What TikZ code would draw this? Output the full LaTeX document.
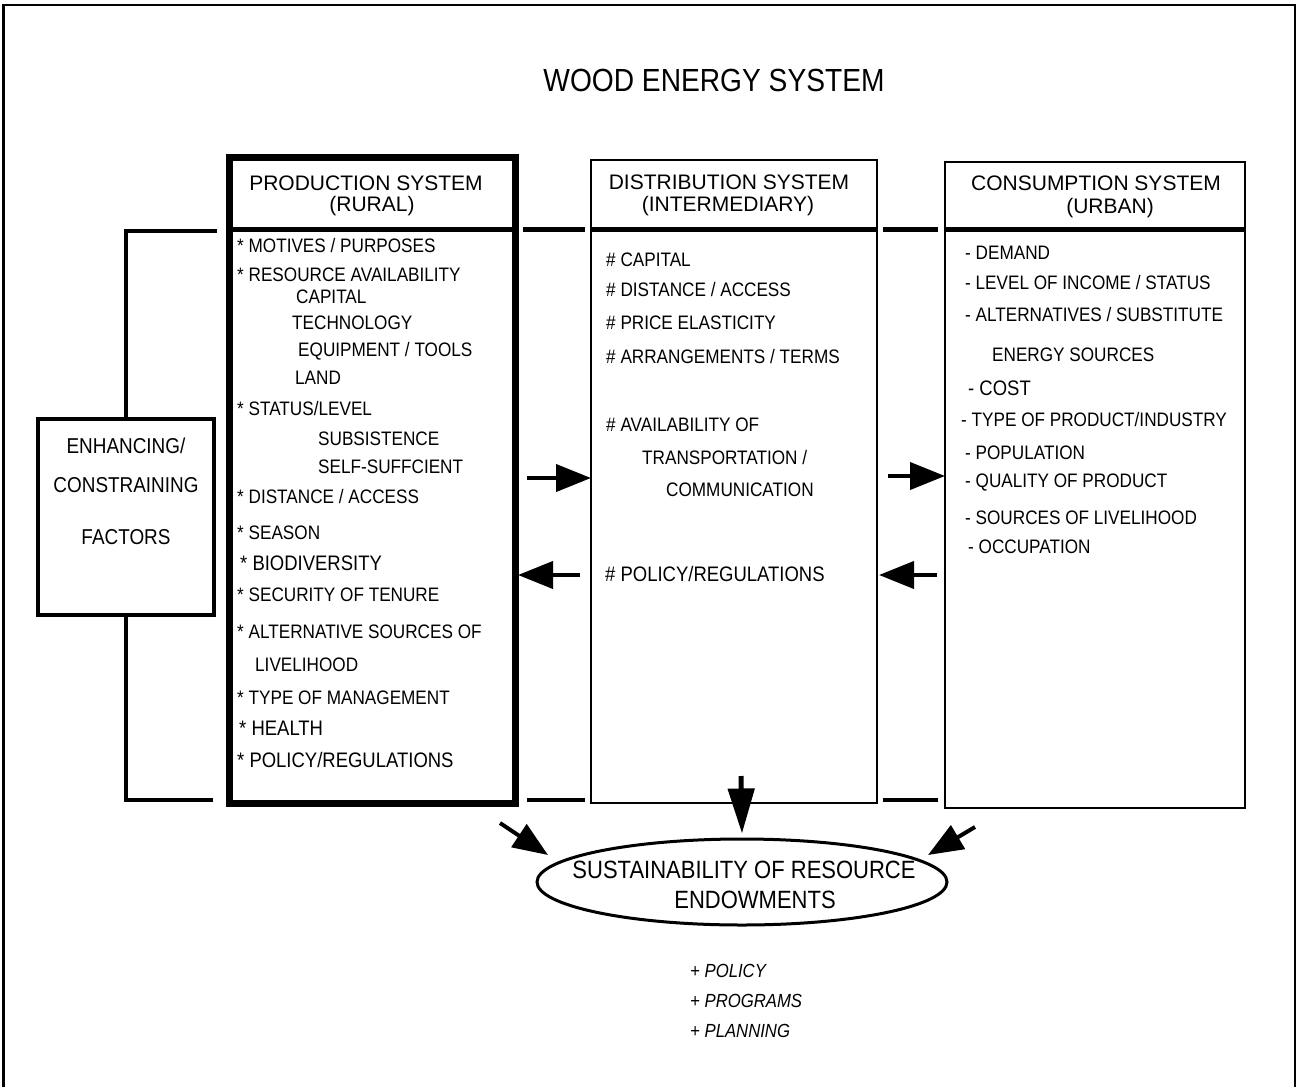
\documentclass[tikz,border=0pt]{standalone}
\usepackage{fontspec}
\setmainfont{Liberation Sans}
\newfontfamily\nf[FakeStretch=0.88]{Liberation Sans}
\usetikzlibrary{shapes.geometric,arrows.meta}
\begin{document}
\begin{tikzpicture}[x=1pt,y=-1pt,
  box/.style={draw, rectangle, anchor=north west, inner sep=0pt, outer sep=0pt},
  item/.style={anchor=west, inner sep=0pt, font=\nf\fontsize{19.5}{20}\selectfont},
  bigitem/.style={anchor=west, inner sep=0pt, font=\nf\fontsize{21}{22}\selectfont},
  head/.style={inner sep=0pt, font=\fontsize{21}{22}\selectfont},
  enhtxt/.style={inner sep=0pt, font=\nf\fontsize{21.5}{22}\selectfont},
  plan/.style={anchor=west, inner sep=0pt, font=\nf\itshape\fontsize{19}{20}\selectfont},
  arr/.style={line width=4pt, -{Triangle[length=35pt,width=27pt]}},
  link/.style={line width=5pt},
  thinlink/.style={line width=4pt},
]
\useasboundingbox (0,0) rectangle (1297,1086);
% outer frame
\draw[line width=2.5pt] (3.5,5) rectangle (1295,1100);

% title
\node[inner sep=0pt, font=\nf\fontsize{32}{34}\selectfont] (title) at (714,80) {WOOD ENERGY SYSTEM};

% boxes
\node[box, line width=7pt, minimum width=286pt, minimum height=645pt] (prod) at (229,158) {};
\node[box, line width=2.5pt, minimum width=286pt, minimum height=643pt] (dist) at (591,160) {};
\node[box, line width=2.5pt, minimum width=300pt, minimum height=646pt] (cons) at (945,162) {};
\node[box, line width=3.5pt, minimum width=176pt, minimum height=196pt] (enh) at (38,419) {};

% header dividers
\draw[link] (prod.west |- 0,229) -- (prod.east |- 0,229);
\draw[link] (dist.west |- 0,229) -- (dist.east |- 0,229);
\draw[link] (cons.west |- 0,229) -- (cons.east |- 0,229);

% links between boxes
\coordinate (ta) at (523,229); \coordinate (tb) at (585,229);
\coordinate (tc) at (883,229); \coordinate (td) at (938,229);
\coordinate (ba) at (527,800); \coordinate (bb) at (585,800);
\coordinate (bc) at (883,800); \coordinate (bd) at (938,800);
\draw[link] (ta) -- (tb);
\draw[link] (tc) -- (td);
\draw[thinlink] (ba) -- (bb);
\draw[thinlink] (bc) -- (bd);

% bracket to enhancing box
\coordinate (bt) at (217,231);
\coordinate (bbt) at (213,800);
\draw[line width=4pt, line join=miter] (bt) -| (enh.north);
\draw[line width=4pt, line join=miter] (bbt) -| (enh.south);

% enhancing text
\node[enhtxt] (e1) at (126,446) {ENHANCING/};
\node[enhtxt] (e2) at (126,485) {CONSTRAINING};
\node[enhtxt] (e3) at (126,537) {FACTORS};

% headers
\node[head] (ph1) at (366,183) {PRODUCTION SYSTEM};
\node[head] (ph2) at (372,206) {(RURAL)};
\node[head] (dh1) at (729,182) {DISTRIBUTION SYSTEM};
\node[head] (dh2) at (728,206) {(INTERMEDIARY)};
\node[head] (ch1) at (1096,183) {CONSUMPTION SYSTEM};
\node[head] (ch2) at (1110,208) {(URBAN)};

% production items
\node[item] (p1) at (237,246) {* MOTIVES / PURPOSES};
\node[item] (p2) at (237,275) {* RESOURCE AVAILABILITY};
\node[item] (p3) at (296,297) {CAPITAL};
\node[item] (p4) at (292,323) {TECHNOLOGY};
\node[item] (p5) at (298,351) {EQUIPMENT / TOOLS};
\node[item] (p6) at (295,378) {LAND};
\node[item] (p7) at (237,409) {* STATUS/LEVEL};
\node[item] (p8) at (318,439) {SUBSISTENCE};
\node[item] (p9) at (318,467) {SELF-SUFFCIENT};
\node[item] (p10) at (237,497) {* DISTANCE / ACCESS};
\node[item] (p11) at (237,533) {* SEASON};
\node[bigitem] (p12) at (240,563) {* BIODIVERSITY};
\node[item] (p13) at (237,595) {* SECURITY OF TENURE};
\node[item] (p14) at (237,632) {* ALTERNATIVE SOURCES OF};
\node[item] (p15) at (255,665) {LIVELIHOOD};
\node[item] (p16) at (237,698) {* TYPE OF MANAGEMENT};
\node[bigitem] (p17) at (239,728) {* HEALTH};
\node[bigitem] (p18) at (237,760) {* POLICY/REGULATIONS};

% distribution items
\node[item] (d1) at (606,260) {\# CAPITAL};
\node[item] (d2) at (606,290) {\# DISTANCE / ACCESS};
\node[item] (d3) at (606,323) {\# PRICE ELASTICITY};
\node[item] (d4) at (606,357) {\# ARRANGEMENTS / TERMS};
\node[item] (d5) at (606,425) {\# AVAILABILITY OF};
\node[item] (d6) at (642,458) {TRANSPORTATION /};
\node[item] (d7) at (666,490) {COMMUNICATION};
\node[bigitem] (d8) at (605,574) {\# POLICY/REGULATIONS};

% consumption items
\node[item] (c1) at (965,253) {- DEMAND};
\node[item] (c2) at (965,283) {- LEVEL OF INCOME / STATUS};
\node[item] (c3) at (965,315) {- ALTERNATIVES / SUBSTITUTE};
\node[item] (c4) at (992,355) {ENERGY SOURCES};
\node[bigitem] (c5) at (968,388) {- COST};
\node[item] (c6) at (961,420) {- TYPE OF PRODUCT/INDUSTRY};
\node[item] (c7) at (965,453) {- POPULATION};
\node[item] (c8) at (965,483) {- QUALITY OF PRODUCT};
\node[item] (c9) at (965,518) {- SOURCES OF LIVELIHOOD};
\node[item] (c10) at (968,547) {- OCCUPATION};

% horizontal arrows
\coordinate (a1) at (527,478);
\coordinate (a2) at (888,476);
\coordinate (a3) at (580,575);
\coordinate (a4) at (937,575);
\draw[arr] (a1) -- (dist.west |- a1);
\draw[arr] (a2) -- (cons.west |- a2);
\draw[arr] (a3) -- ([xshift=3pt]prod.east |- a3);
\draw[arr] (a4) -- ([xshift=2pt]dist.east |- a4);

% sustainability ellipse
\node[draw, ellipse, line width=3pt, minimum width=410pt, minimum height=86pt, inner sep=0pt] (sus) at (742,882) {};
\node[inner sep=0pt, font=\nf\fontsize{25}{26}\selectfont] (s1) at (744,870) {SUSTAINABILITY OF RESOURCE};
\node[inner sep=0pt, font=\nf\fontsize{25}{26}\selectfont] (s2) at (755,900) {ENDOWMENTS};

% arrows to ellipse
\coordinate (dstart) at (741,776);
\draw[line width=5pt, -{Triangle[length=45pt,width=26pt]}] (dstart) -- ([yshift=4pt]sus.north);
\coordinate (l1) at (500,823); \coordinate (l2) at (548,855);
\coordinate (r1) at (975,827); \coordinate (r2) at (928,855);
\draw[arr] (l1) -- (l2);
\draw[arr] (r1) -- (r2);

% planning list
\node[plan] (q1) at (690,971) {+ POLICY};
\node[plan] (q2) at (690,1001) {+ PROGRAMS};
\node[plan] (q3) at (690,1031) {+ PLANNING};
\end{tikzpicture}
\end{document}
